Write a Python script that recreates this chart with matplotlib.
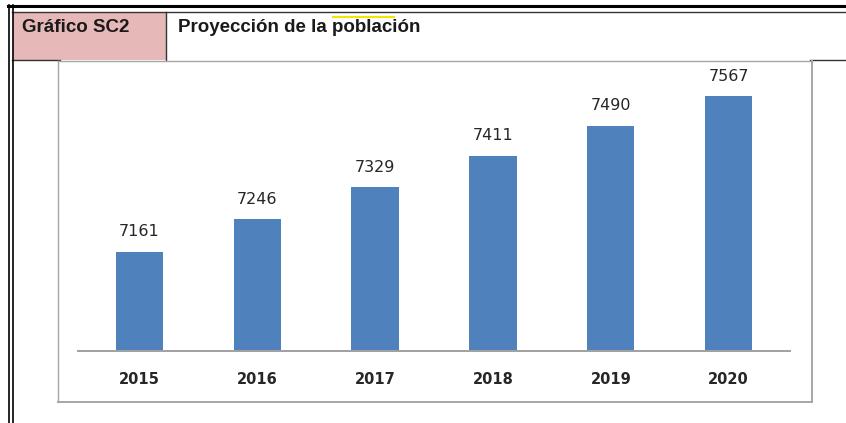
"""Proyección de la población - bar chart"""

import matplotlib
matplotlib.use("Agg")
import matplotlib.pyplot as plt
from matplotlib.lines import Line2D
from matplotlib.patches import Rectangle

years = ["2015", "2016", "2017", "2018", "2019", "2020"]
population = [7161, 7246, 7329, 7411, 7490, 7567]

W, H = 846, 423
BAR_COLOR = "#4F81BD"
PINK = "#E6B8B7"


def px(x, y):
    # pixel coords (top-left origin) -> figure fraction
    return x / W, 1 - y / H


def hline(fig, x0, x1, y, color, lw):
    (a, b), (c, _) = px(x0, y), px(x1, y)
    fig.add_artist(Line2D([a, c], [b, b], color=color, lw=lw, transform=fig.transFigure))


def vline(fig, x, y0, y1, color, lw):
    (a, b), (_, d) = px(x, y0), px(x, y1)
    fig.add_artist(Line2D([a, a], [b, d], color=color, lw=lw, transform=fig.transFigure))


fig = plt.figure(figsize=(W / 100, H / 100), dpi=100)

# header cells
x0, y0 = px(13, 60)
fig.add_artist(Rectangle((x0, y0), (166 - 13) / W, (60 - 13) / H,
                         facecolor=PINK, edgecolor="none", transform=fig.transFigure))
fig.text(*px(22, 27), "Gráfico SC2", fontsize=13.5, fontweight="bold",
         family="Liberation Sans", va="center", ha="left", color="#1a1a1a")
fig.text(*px(178, 27), "Proyección de la población", fontsize=13.5, fontweight="bold",
         family="Liberation Sans", va="center", ha="left", color="#1a1a1a")
hline(fig, 333, 394, 17, "#F2E600", 1.5)

# table lines
hline(fig, 8, 846, 6, "black", 2.2)
hline(fig, 12, 846, 12, "#333333", 1.0)
hline(fig, 12, 60, 60, "#333333", 1.0)
hline(fig, 810, 846, 60, "#333333", 1.0)
vline(fig, 9, 5, 423, "black", 1.2)
vline(fig, 13, 5, 423, "black", 1.2)
vline(fig, 166, 12, 60, "#333333", 1.0)

# chart frame
hline(fig, 58, 812, 61, "#A6A6A6", 1.0)
hline(fig, 58, 812, 402, "#A6A6A6", 1.4)
vline(fig, 58, 61, 402, "#A6A6A6", 1.0)
vline(fig, 812, 61, 402, "#A6A6A6", 1.4)

# plot area
left, bottom = px(78, 351)
right, top = px(790, 63)
ax = fig.add_axes([left, bottom, right - left, top - bottom])
xs = range(len(years))
bars = ax.bar(xs, population, width=0.4, color=BAR_COLOR)
ax.set_ylim(6903, 7653)
ax.set_xlim(-0.52, 5.52)
for b, v in zip(bars, population):
    ax.annotate(str(v), (b.get_x() + b.get_width() / 2, v), xytext=(0, 9),
                textcoords="offset points", ha="center", va="bottom",
                fontsize=11.5, color="#262626")

for s in ["top", "right", "left"]:
    ax.spines[s].set_visible(False)
ax.spines["bottom"].set_color("#A0A0A0")
ax.spines["bottom"].set_linewidth(1.4)
ax.set_yticks([])
ax.set_xticks(list(xs))
ax.set_xticklabels(years, fontsize=10.5, fontweight="bold", color="#262626")
ax.tick_params(axis="x", length=0, pad=15)

fig.savefig("out.png", dpi=100)
